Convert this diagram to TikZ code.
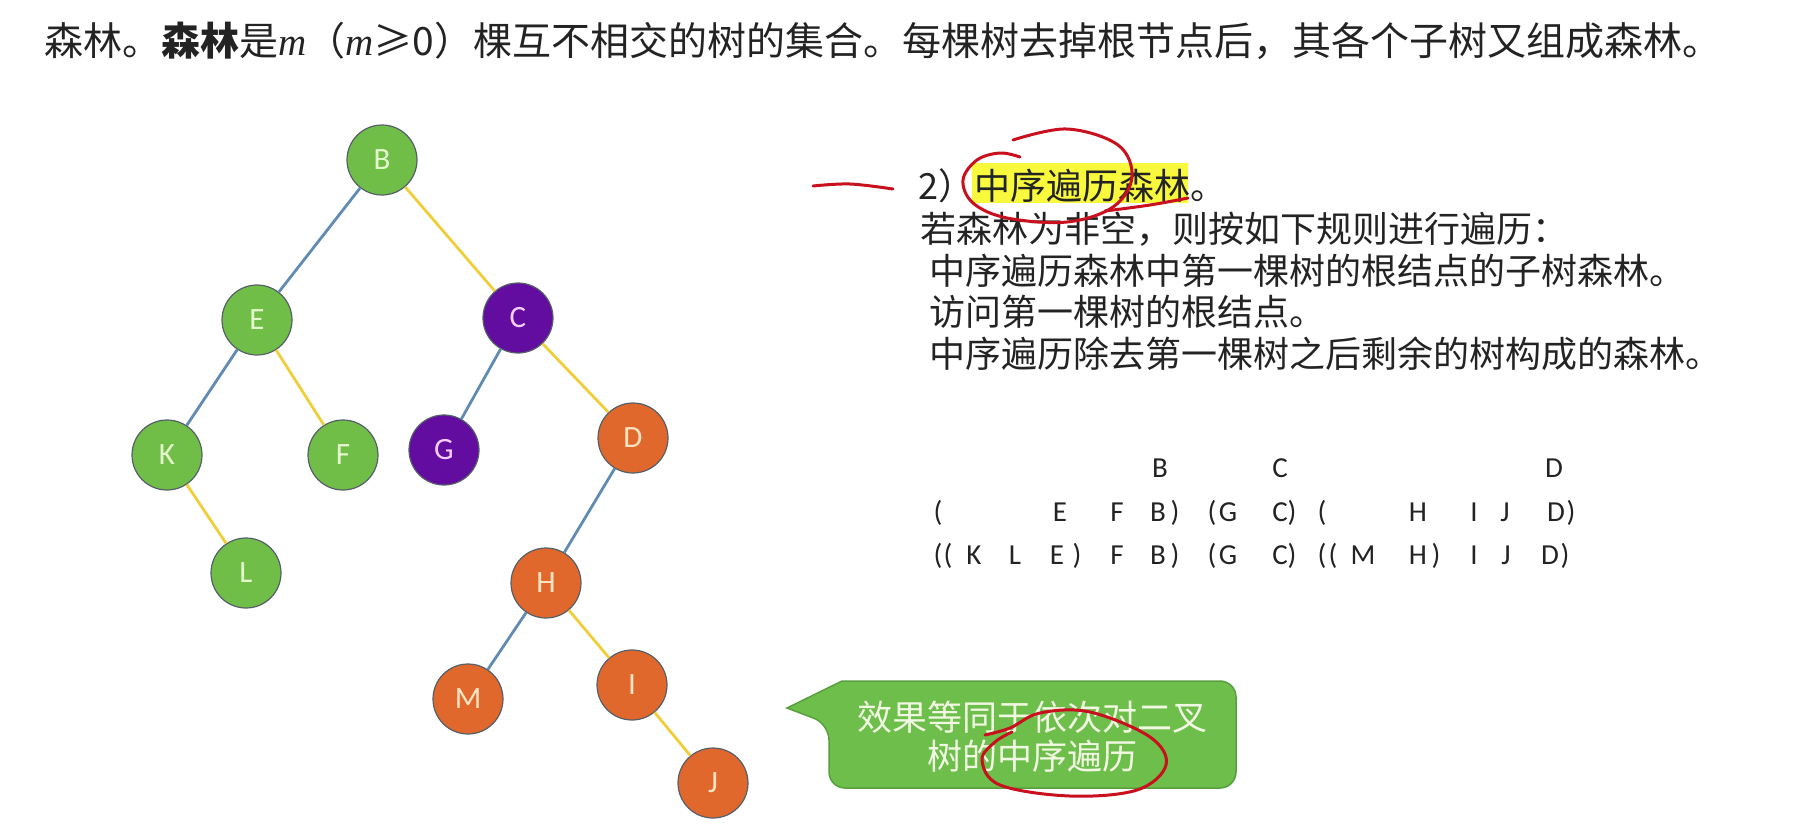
\documentclass[tikz,border=0pt]{standalone}
\usepackage{fontspec}
\setmainfont{Carlito}
\newfontfamily\cjk{Noto Sans CJK SC}
\newfontfamily\tms{Liberation Serif}
\definecolor{ngreen}{RGB}{112,190,72}
\definecolor{npurple}{RGB}{98,12,160}
\definecolor{norange}{RGB}{224,104,44}
\definecolor{nborder}{RGB}{85,95,105}
\definecolor{gtext}{RGB}{228,250,205}
\definecolor{ptext}{RGB}{245,205,255}
\definecolor{otext}{RGB}{255,228,195}
\definecolor{eblue}{RGB}{96,140,180}
\definecolor{eyellow}{RGB}{240,206,58}
\definecolor{hlyellow}{RGB}{248,248,60}
\definecolor{inkred}{RGB}{200,16,30}
\definecolor{cgreen}{RGB}{110,190,75}
\definecolor{cborder}{RGB}{88,160,62}
\definecolor{ctext}{RGB}{240,248,225}
\definecolor{dtext}{RGB}{35,35,35}
\begin{document}
\begin{tikzpicture}[x=1pt,y=-1pt,
  tnode/.style={circle, minimum size=70pt, inner sep=0pt, draw=nborder, line width=1.2pt, font=\fontsize{31}{31}\selectfont},
  gnode/.style={tnode, fill=ngreen, text=gtext},
  pnode/.style={tnode, fill=npurple, text=ptext},
  onode/.style={tnode, fill=norange, text=otext},
  ledge/.style={draw=eblue, line width=2.8pt},
  redge/.style={draw=eyellow, line width=2.8pt},
  ink/.style={draw=inkred, line width=3pt, line cap=round, line join=round},
  seq/.style={anchor=base, inner sep=0pt, text=dtext, font=\fontsize{29}{29}\selectfont},
  rtext/.style={anchor=base west, inner sep=0pt, text=dtext, font=\cjk\fontsize{36}{36}\selectfont},
  callout/.style={draw=cborder, fill=cgreen, line width=1.5pt},
]
\useasboundingbox (0,0) rectangle (1806,825);

% top line
\node[anchor=base west, inner sep=0pt, text=dtext, font=\cjk\fontsize{39}{39}\selectfont] (top) at (44,55)
  {森林。{\bfseries 森林}是{\tms\itshape m}（{\tms\itshape m}≥0）棵互不相交的树的集合。每棵树去掉根节点后，其各个子树又组成森林。};

% tree nodes
\node[gnode] (B) at (382,160) {B};
\node[gnode] (E) at (257,320) {E};
\node[pnode] (C) at (518,318) {C};
\node[gnode] (K) at (167,455) {K};
\node[gnode] (F) at (343,455) {F};
\node[pnode] (G) at (444,450) {G};
\node[onode] (D) at (633,438) {D};
\node[gnode] (L) at (246,573) {L};
\node[onode] (H) at (546,583) {H};
\node[onode] (M) at (468,699) {M};
\node[onode] (I) at (632,685) {I};
\node[onode] (J) at (713,783) {J};

% tree edges
\draw[ledge] (B) -- (E);
\draw[redge] (B) -- (C);
\draw[ledge] (E) -- (K);
\draw[redge] (E) -- (F);
\draw[redge] (K) -- (L);
\draw[ledge] (C) -- (G);
\draw[redge] (C) -- (D);
\draw[ledge] (D) -- (H);
\draw[ledge] (H) -- (M);
\draw[redge] (H) -- (I);
\draw[redge] (I) -- (J);

% right text
\fill[hlyellow] (972,163) rectangle (1188,203);
\node[rtext] (t1) at (918,199) {2）中序遍历森林。};
\node[rtext] (t2) at (920,242) {若森林为非空，则按如下规则进行遍历：};
\node[rtext] (t3) at (929,284) {中序遍历森林中第一棵树的根结点的子树森林。};
\node[rtext] (t4) at (929,325) {访问第一棵树的根结点。};
\node[rtext] (t5) at (929,367) {中序遍历除去第一棵树之后剩余的树构成的森林。};

% sequences
\foreach \x/\lab [count=\i] in {1160/B,1280/C,1554/D}
  \node[seq] (ra\i) at (\x,477) {\lab};
\foreach \x/\lab [count=\i] in {938/(,1060/E,1117/F,1158/B,1175/),1212/(,1228/G,1280/C,1292/),1322/(,1418/H,1474/I,1505/J,1556/D,1571/)}
  \node[seq] (rb\i) at (\x,521) {\lab};
\foreach \x/\lab [count=\i] in {938/(,948/(,974/K,1015/L,1057/E,1077/),1117/F,1158/B,1175/),1212/(,1228/G,1280/C,1292/),1322/(,1333/(,1363/M,1418/H,1436/),1474/I,1506/J,1550/D,1565/)}
  \node[seq] (rc\i) at (\x,564) {\lab};

% callout
\draw[callout] (787,708) -- (842,681) [rounded corners=16pt] -- (1236,681) -- (1236,788) -- (829,788) -- (829,724) [sharp corners] -- cycle;
\node[align=center, text=ctext, font=\cjk\fontsize{35}{39}\selectfont] (note) at (1032,737) {效果等同于依次对二叉\\树的中序遍历};

% red ink annotations
\draw[ink] plot[smooth, tension=0.6] coordinates {(813,186) (850,184) (893,189)};
\draw[ink] plot[smooth, tension=0.6] coordinates {(1013,140) (1067,129) (1118,145) (1132,177) (1113,207) (1067,222) (1007,218) (973,203) (963,180) (977,160) (1000,153) (1020,157)};
\draw[ink] plot[smooth, tension=0.6] coordinates {(1105,211) (1150,205) (1188,198)};
\draw[ink] plot[smooth, tension=0.6] coordinates {(985,735) (1010,728) (1040,713) (1090,712) (1150,737) (1166,765) (1137,790) (1070,796) (1000,785) (982,760) (995,742) (1012,732)};
\end{tikzpicture}
\end{document}
